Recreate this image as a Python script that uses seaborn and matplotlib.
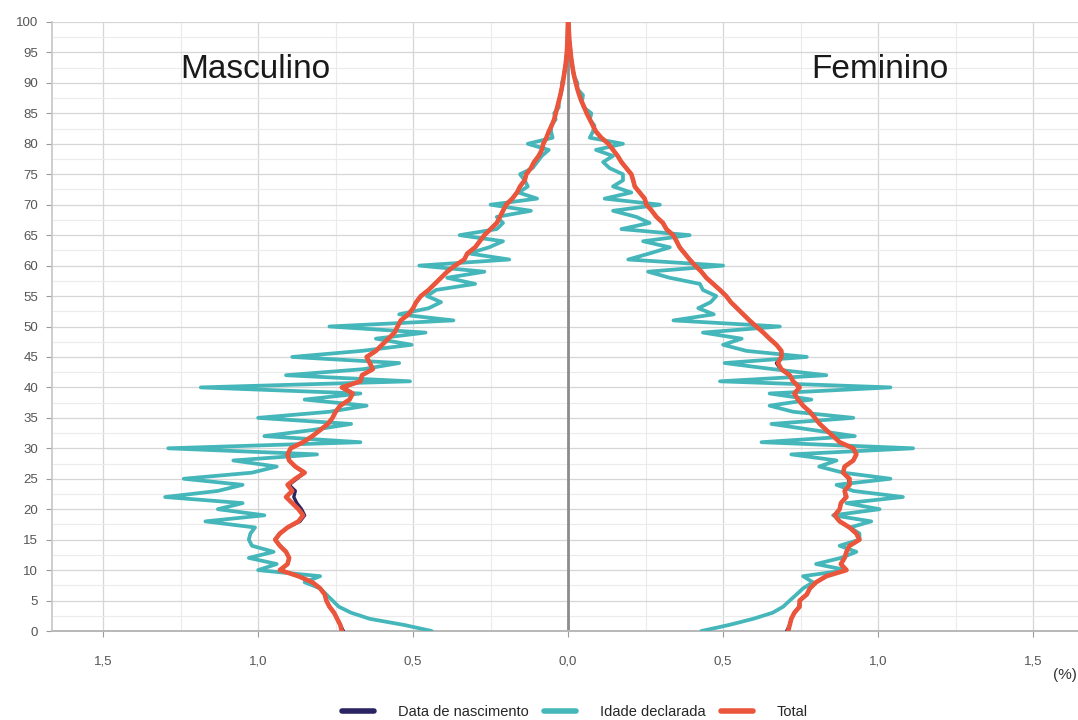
import numpy as np
import pandas as pd
import matplotlib
matplotlib.use("Agg")
import matplotlib.pyplot as plt
from matplotlib.ticker import FuncFormatter, MultipleLocator
from matplotlib.lines import Line2D
import seaborn as sns

ages = list(range(0, 101))

# Masculino (%)
male_total = [0.73, 0.735, 0.745, 0.755, 0.77, 0.78, 0.785, 0.80, 0.825, 0.87,
              0.93, 0.905, 0.90, 0.91, 0.93, 0.945, 0.93, 0.905, 0.87, 0.855,
              0.87, 0.89, 0.91, 0.89, 0.905, 0.88, 0.85, 0.88, 0.90, 0.905,
              0.895, 0.855, 0.825, 0.80, 0.775, 0.76, 0.75, 0.735, 0.705, 0.695,
              0.73, 0.67, 0.665, 0.63, 0.64, 0.65, 0.62, 0.60, 0.58, 0.56,
              0.55, 0.54, 0.515, 0.50, 0.49, 0.475, 0.45, 0.43, 0.41, 0.39,
              0.365, 0.335, 0.325, 0.30, 0.285, 0.27, 0.25, 0.23, 0.22, 0.21,
              0.20, 0.18, 0.165, 0.155, 0.14, 0.135, 0.12, 0.11, 0.095, 0.085,
              0.08, 0.07, 0.0625, 0.053, 0.045, 0.04, 0.035, 0.03, 0.025, 0.021,
              0.017, 0.014, 0.011, 0.008, 0.006, 0.004, 0.003, 0.002, 0.0015, 0.001,
              0.0005]
male_nasc = [0.725, 0.735, 0.745, 0.755, 0.77, 0.78, 0.785, 0.80, 0.825, 0.87,
             0.93, 0.905, 0.90, 0.91, 0.93, 0.945, 0.93, 0.905, 0.865, 0.85,
             0.86, 0.875, 0.885, 0.88, 0.90, 0.875, 0.85, 0.88, 0.90, 0.905,
             0.895, 0.855, 0.825, 0.80, 0.775, 0.76, 0.75, 0.735, 0.705, 0.695,
             0.725, 0.67, 0.665, 0.63, 0.64, 0.65, 0.62, 0.60, 0.58, 0.56,
             0.55, 0.54, 0.515, 0.50, 0.49, 0.475, 0.45, 0.43, 0.41, 0.39,
             0.365, 0.335, 0.325, 0.30, 0.285, 0.27, 0.25, 0.23, 0.22, 0.21,
             0.20, 0.18, 0.165, 0.155, 0.14, 0.135, 0.12, 0.11, 0.095, 0.085,
             0.08, 0.07, 0.0625, 0.053, 0.045, 0.04, 0.035, 0.03, 0.025, 0.021,
             0.017, 0.014, 0.011, 0.008, 0.006, 0.004, 0.003, 0.002, 0.0015, 0.001,
             0.0005]
male_decl = [0.44, 0.53, 0.64, 0.70, 0.74, 0.76, 0.78, 0.80, 0.85, 0.80,
             1.00, 0.94, 1.03, 0.95, 1.02, 1.03, 1.025, 1.01, 1.17, 0.98,
             1.13, 1.05, 1.30, 1.13, 1.05, 1.24, 1.02, 0.94, 1.08, 0.81,
             1.29, 0.67, 0.98, 0.825, 0.70, 1.00, 0.77, 0.65, 0.85, 0.67,
             1.185, 0.51, 0.91, 0.66, 0.545, 0.89, 0.665, 0.505, 0.62, 0.46,
             0.77, 0.37, 0.545, 0.45, 0.41, 0.455, 0.426, 0.30, 0.39, 0.27,
             0.48, 0.19, 0.32, 0.255, 0.21, 0.35, 0.23, 0.21, 0.23, 0.12,
             0.25, 0.10, 0.16, 0.13, 0.14, 0.155, 0.115, 0.10, 0.085, 0.0625,
             0.13, 0.05, 0.055, 0.055, 0.04, 0.045, 0.03, 0.03, 0.025, 0.02,
             0.02, 0.014, 0.011, 0.008, 0.006, 0.004, 0.003, 0.002, 0.0015, 0.001,
             0.0005]

# Feminino (%)
female_total = [0.71, 0.715, 0.72, 0.73, 0.747, 0.747, 0.77, 0.78, 0.80, 0.833,
                0.898, 0.88, 0.892, 0.898, 0.908, 0.94, 0.93, 0.908, 0.876, 0.86,
                0.876, 0.88, 0.898, 0.892, 0.908, 0.908, 0.887, 0.892, 0.92, 0.93,
                0.92, 0.876, 0.855, 0.833, 0.812, 0.796, 0.78, 0.758, 0.742, 0.73,
                0.747, 0.726, 0.715, 0.688, 0.677, 0.688, 0.688, 0.672, 0.65, 0.63,
                0.607, 0.585, 0.565, 0.545, 0.525, 0.51, 0.49, 0.468, 0.446, 0.43,
                0.41, 0.392, 0.376, 0.36, 0.35, 0.339, 0.317, 0.306, 0.285, 0.27,
                0.253, 0.247, 0.231, 0.215, 0.21, 0.204, 0.188, 0.172, 0.16, 0.145,
                0.13, 0.107, 0.09, 0.08, 0.07, 0.06, 0.052, 0.043, 0.036, 0.03,
                0.025, 0.02, 0.016, 0.013, 0.01, 0.008, 0.006, 0.004, 0.003, 0.002,
                0.001]
female_nasc = [0.705, 0.715, 0.72, 0.73, 0.745, 0.747, 0.77, 0.78, 0.80, 0.833,
               0.895, 0.88, 0.892, 0.898, 0.908, 0.94, 0.93, 0.908, 0.876, 0.86,
               0.876, 0.88, 0.895, 0.892, 0.905, 0.905, 0.887, 0.892, 0.92, 0.93,
               0.92, 0.876, 0.855, 0.833, 0.812, 0.796, 0.78, 0.758, 0.742, 0.73,
               0.745, 0.726, 0.715, 0.685, 0.672, 0.69, 0.688, 0.672, 0.65, 0.63,
               0.607, 0.585, 0.565, 0.545, 0.525, 0.51, 0.49, 0.468, 0.446, 0.43,
               0.41, 0.392, 0.376, 0.36, 0.35, 0.339, 0.317, 0.306, 0.285, 0.27,
               0.253, 0.247, 0.231, 0.215, 0.21, 0.204, 0.188, 0.172, 0.16, 0.145,
               0.13, 0.107, 0.09, 0.08, 0.07, 0.06, 0.052, 0.043, 0.036, 0.03,
               0.025, 0.02, 0.016, 0.013, 0.01, 0.008, 0.006, 0.004, 0.003, 0.002,
               0.001]
female_decl = [0.43, 0.52, 0.597, 0.66, 0.694, 0.715, 0.737, 0.758, 0.79, 0.758,
               0.898, 0.80, 0.88, 0.93, 0.876, 0.94, 0.94, 0.91, 0.978, 0.855,
               1.005, 0.898, 1.08, 0.92, 0.866, 1.04, 0.887, 0.81, 0.866, 0.72,
               1.113, 0.624, 0.925, 0.79, 0.656, 0.92, 0.726, 0.65, 0.785, 0.65,
               1.04, 0.49, 0.833, 0.66, 0.505, 0.77, 0.575, 0.50, 0.56, 0.435,
               0.683, 0.34, 0.47, 0.42, 0.46, 0.478, 0.435, 0.425, 0.328, 0.258,
               0.50, 0.194, 0.263, 0.328, 0.242, 0.392, 0.172, 0.263, 0.22, 0.145,
               0.296, 0.118, 0.204, 0.145, 0.177, 0.177, 0.134, 0.113, 0.145, 0.09,
               0.177, 0.07, 0.08, 0.085, 0.07, 0.075, 0.05, 0.045, 0.048, 0.03,
               0.03, 0.02, 0.016, 0.013, 0.01, 0.008, 0.006, 0.004, 0.003, 0.002,
               0.001]

series_names = ["Data de nascimento", "Idade declarada", "Total"]
series_colors = ["#2b2462", "#45b6ba", "#ea553b"]
series_widths = [2.4, 2.7, 3.3]
x_tick_vals = [-1.5, -1.0, -0.5, 0.0, 0.5, 1.0, 1.5]
y_tick_vals = list(range(0, 101, 5))

rows = []
for name, mvals, fvals in [("Data de nascimento", male_nasc, female_nasc),
                           ("Idade declarada", male_decl, female_decl),
                           ("Total", male_total, female_total)]:
    for a, m, f in zip(ages, mvals, fvals):
        rows.append({"serie": name, "sexo": "Masculino", "idade": a, "pct": -m})
        rows.append({"serie": name, "sexo": "Feminino", "idade": a, "pct": f})
df = pd.DataFrame(rows)

sns.set_theme(style="white")
plt.rcParams["font.family"] = ["Liberation Sans", "DejaVu Sans"]

fig = plt.figure(figsize=(10.78, 7.2), dpi=100)
ax = fig.add_axes([52 / 1078, (720 - 631) / 720, (1078 - 52) / 1078, (631 - 22) / 720])

ax.set_xlim(-1.665, 1.645)
ax.set_ylim(0, 100)

# grid
ax.xaxis.set_major_locator(MultipleLocator(0.5))
ax.xaxis.set_minor_locator(MultipleLocator(0.25))
ax.yaxis.set_major_locator(MultipleLocator(5))
ax.yaxis.set_minor_locator(MultipleLocator(2.5))
ax.grid(which="major", color="#d6d6d6", lw=0.9)
ax.grid(which="minor", color="#ebebeb", lw=0.8)
ax.set_axisbelow(True)
ax.axvline(0, color="#8c8c8c", lw=2.0, zorder=1.5)

for name, col, lw in zip(series_names, series_colors, series_widths):
    sub = df[df["serie"] == name]
    sns.lineplot(data=sub, x="pct", y="idade", units="sexo", estimator=None,
                 orient="y", sort=True, color=col, lw=lw, ax=ax, legend=False,
                 zorder=3)

ax.xaxis.set_major_formatter(FuncFormatter(lambda v, p: f"{abs(v):.1f}".replace(".", ",")))
ax.set_xticks(x_tick_vals)
ax.set_yticks(y_tick_vals)
ax.tick_params(axis="both", which="major", labelsize=9.5, labelcolor="#555555",
               color="#9a9a9a", length=4, width=0.8, bottom=True, left=True)
ax.tick_params(axis="x", pad=14)
ax.tick_params(axis="y", pad=6)
ax.set_xlabel("")
ax.set_ylabel("")
for s in ["top", "right"]:
    ax.spines[s].set_visible(False)
ax.spines["left"].set_color("#c8c8c8")
ax.spines["bottom"].set_color("#b8b8b8")
ax.spines["bottom"].set_linewidth(1.4)

ax.text(-1.01, 92.2, "Masculino", fontsize=24, ha="center", va="center", color="#1a1a1a")
ax.text(1.006, 92.2, "Feminino", fontsize=24, ha="center", va="center", color="#1a1a1a")

fig.text(1053 / 1078, 1 - 675 / 720, "(%)", fontsize=11, ha="left", va="center", color="#333333")

handles = [Line2D([0], [0], color=c, lw=4) for c in series_colors]
fig.legend(handles, series_names, loc="center", bbox_to_anchor=(575 / 1078, 1 - 712 / 720),
           ncol=3, frameon=False, fontsize=10.5, handlelength=2.2, columnspacing=1.1,
           handletextpad=1.6)

fig.savefig("out.png", dpi=100)
